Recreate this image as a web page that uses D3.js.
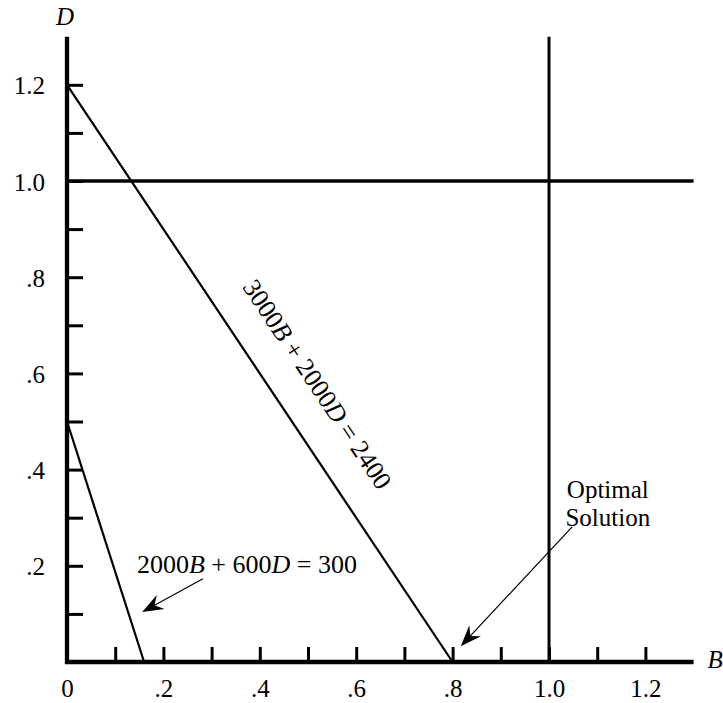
<!DOCTYPE html>
<html><head><meta charset="utf-8">
<script src="https://cdn.jsdelivr.net/npm/d3@7"></script>
<style>
body{margin:0;background:#fff;}
svg{display:block;font-family:"Liberation Serif","Times New Roman",serif;}
</style></head><body>
<svg id="c" width="723" height="703"></svg>
<script>
// ---- data ----
const bTicks = [0.1,0.2,0.3,0.4,0.5,0.6,0.7,0.8,0.9,1.0,1.1,1.2];
const bLabelValues = [0,0.2,0.4,0.6,0.8,1.0,1.2];
const bLabels = ["0",".2",".4",".6",".8","1.0","1.2"];
const dTicks = [0.1,0.2,0.3,0.4,0.5,0.6,0.7,0.8,0.9,1.0,1.1,1.2];
const dLabelValues = [0.2,0.4,0.6,0.8,1.0,1.2];
const dLabels = [".2",".4",".6",".8","1.0","1.2"];
const constraint1 = [{B:0,D:1.2},{B:0.8,D:0}];     // 3000B + 2000D = 2400
const constraint2 = [{B:0,D:0.5},{B:0.16,D:0}];    // 2000B + 600D = 300
const boundB = 1.0, boundD = 1.0;
const axisMax = 1.3;
const arrow1 = {from:{B:0.282,D:0.173}, to:{B:0.156,D:0.104}};
const arrow2 = {from:{B:1.048,D:0.281}, to:{B:0.817,D:0.033}};
const label2Pos = {B:0.145,D:0.185};
const optimalPos = [{B:1.122,D:0.341,t:"Optimal"},{B:1.122,D:0.283,t:"Solution"}];

// ---- scales ----
const x = d3.scaleLinear([0,1],[67,549]);
const y = d3.scaleLinear([0,1],[662,181]);
const svg = d3.select("#c");
const FS = 25;

// reference lines
svg.append("line").attr("x1",x(0)).attr("x2",x(axisMax)).attr("y1",y(boundD)).attr("y2",y(boundD))
  .attr("stroke","#000").attr("stroke-width",3.5);
svg.append("line").attr("x1",x(boundB)).attr("x2",x(boundB)).attr("y1",y(0)).attr("y2",y(axisMax))
  .attr("stroke","#000").attr("stroke-width",3);

// constraint lines
const line = d3.line().x(d=>x(d.B)).y(d=>y(d.D));
[constraint1,constraint2].forEach(c=>{
  svg.append("path").attr("d",line(c)).attr("fill","none").attr("stroke","#000").attr("stroke-width",2.2);
});

// axes (minor ticks)
const yAxisG = svg.append("g").attr("transform",`translate(${x(0)},0)`)
  .call(d3.axisLeft(y).tickValues(dTicks).tickSize(-16).tickFormat(""));
const xAxisG = svg.append("g").attr("transform",`translate(0,${y(0)})`)
  .call(d3.axisBottom(x).tickValues(bTicks).tickSize(-15).tickFormat(""));
[yAxisG,xAxisG].forEach(g=>{
  g.select(".domain").remove();
  g.selectAll(".tick line").attr("stroke","#000").attr("stroke-width",3);
});
// axis lines
svg.append("line").attr("x1",x(0)).attr("x2",x(0)).attr("y1",y(0)+2).attr("y2",y(axisMax))
  .attr("stroke","#000").attr("stroke-width",4.3);
svg.append("line").attr("x1",x(0)-2).attr("x2",x(axisMax)).attr("y1",y(0)).attr("y2",y(0))
  .attr("stroke","#000").attr("stroke-width",4.3);

// tick labels
const yl = svg.append("g").attr("transform",`translate(${x(0)},0)`)
  .call(d3.axisLeft(y).tickValues(dLabelValues).tickSize(0).tickPadding(22)
    .tickFormat((d,i)=>dLabels[i]));
const xl = svg.append("g").attr("transform",`translate(0,${y(0)})`)
  .call(d3.axisBottom(x).tickValues(bLabelValues).tickSize(0).tickPadding(16)
    .tickFormat((d,i)=>bLabels[i]));
[yl,xl].forEach(g=>{
  g.select(".domain").remove();
  g.selectAll("text").attr("font-family","Liberation Serif").attr("font-size",FS).attr("fill","#000");
});
yl.selectAll("text").attr("dy","0.36em");
xl.selectAll("text").attr("dy","0.74em");

// axis titles
svg.append("text").attr("x",x(0)-2).attr("y",25).attr("text-anchor","middle")
  .attr("font-size",FS).attr("font-style","italic").text("D");
svg.append("text").attr("x",x(axisMax)+14).attr("y",y(0)+6)
  .attr("font-size",FS).attr("font-style","italic").text("B");

// rotated label on constraint1
{
  const p0 = [x(constraint1[0].B),y(constraint1[0].D)], p1=[x(constraint1[1].B),y(constraint1[1].D)];
  const ang = Math.atan2(p1[1]-p0[1],p1[0]-p0[0])*180/Math.PI;
  const mid = [x(0.4),y(0.6)];
  const t = svg.append("text").attr("transform",`translate(${mid[0]},${mid[1]}) rotate(${ang})`)
    .attr("x",41).attr("y",-33).attr("text-anchor","middle").attr("font-size",FS+1);
  t.append("tspan").text("3000");
  t.append("tspan").attr("font-style","italic").text("B");
  t.append("tspan").text(" + 2000");
  t.append("tspan").attr("font-style","italic").text("D");
  t.append("tspan").text(" = 2400");
}
// label for constraint2
{
  const t = svg.append("text").attr("x",x(label2Pos.B)).attr("y",y(label2Pos.D)).attr("font-size",FS+1);
  t.append("tspan").text("2000");
  t.append("tspan").attr("font-style","italic").text("B");
  t.append("tspan").text(" + 600");
  t.append("tspan").attr("font-style","italic").text("D");
  t.append("tspan").text(" = 300");
}
// optimal solution label
svg.selectAll("text.opt").data(optimalPos).join("text").attr("class","opt")
  .attr("x",d=>x(d.B)).attr("y",d=>y(d.D)).attr("text-anchor","middle").attr("font-size",FS).text(d=>d.t);

// arrows
function drawArrow(a){
  const fx=x(a.from.B), fy=y(a.from.D), tx=x(a.to.B), ty=y(a.to.D);
  const ang = Math.atan2(ty-fy,tx-fx);
  const L = 21;
  svg.append("line").attr("x1",fx).attr("y1",fy).attr("x2",tx-Math.cos(ang)*12).attr("y2",ty-Math.sin(ang)*12)
    .attr("stroke","#000").attr("stroke-width",1.2);
  svg.append("path").attr("transform",`translate(${tx},${ty}) rotate(${ang*180/Math.PI})`)
    .attr("d",`M0,0 L${-L},-8 L${-L+7},0 L${-L},8 Z`).attr("fill","#000");
}
drawArrow(arrow1); drawArrow(arrow2);
</script>
</body></html>
